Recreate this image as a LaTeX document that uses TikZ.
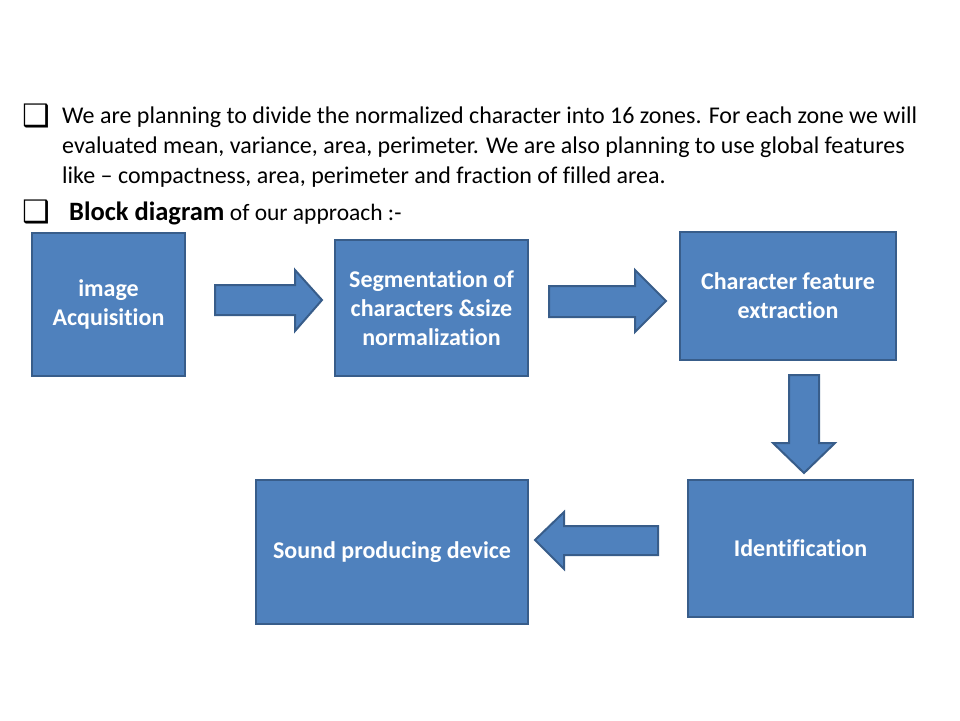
\documentclass[tikz,border=0pt]{standalone}
\usepackage{fontspec}
\setmainfont{Carlito}[Ligatures=NoCommon]
\newfontfamily\symfont{DejaVu Sans}
\usetikzlibrary{calc}
\definecolor{boxblue}{HTML}{4F81BD}
\definecolor{boxedge}{HTML}{385D8A}
\tikzset{
  block/.style={draw=boxedge, fill=boxblue, line width=2pt, text=white, align=center,
    font=\fontsize{24}{29}\selectfont\bfseries, inner sep=2pt},
  fatarrow/.style={draw=boxedge, fill=boxblue, line width=2pt, line join=miter},
  line/.style={anchor=base west, inner sep=0pt, font=\fontsize{24}{29.5}\selectfont},
  tick/.style={anchor=center, inner sep=0pt, font=\symfont\fontsize{31}{31}\selectfont}
}
\begin{document}
\begin{tikzpicture}[x=1pt, y=-1pt]
			%%%%% START %%%%%
			\useasboundingbox (0, 0) rectangle (960, 720);
			
			\node[tick] (t1) at (36.5, 116) {❑};
			\node[line] (l1) at (62, 123) {We are planning to divide the normalized character into 16 zones. For each zone we will};
			\node[line] (l2) at (62, 153) {evaluated mean, variance, area, perimeter. We are also planning to use global features};
			\node[line] (l3) at (62, 183) {like – compactness, area, perimeter and fraction of filled area.};
			
			\node[tick] (t2) at (36.5, 211.5) {❑};
			\node[line] (l4) at (69, 220) {{\fontsize{26.5}{29}\selectfont\bfseries Block diagram} {\fontsize{23.5}{29}\selectfont of our approach :-}};
			
			\node[block, minimum width=153, minimum height=143] (acq) at (108.5, 304.5) {image\\Acquisition};
			\node[block, minimum width=193, minimum height=136] (seg) at (431.5, 308) {Segmentation of\\characters \&size\\normalization};
			\node[block, minimum width=216, minimum height=128] (feat) at (788, 296) {Character feature\\extraction};
			\node[block, minimum width=225, minimum height=137] (ident) at (800.5, 548.5) {Identification};
			\node[block, minimum width=272, minimum height=144] (sound) at (392, 552) {Sound producing device};
			
			\draw[fatarrow] (215, 285) -- (295, 285) -- (295, 270) -- (322, 300) -- (295, 331) -- (295, 315) -- (215, 315) -- cycle;
			\draw[fatarrow] (549, 286) -- (635, 286) -- (635, 270) -- (666, 301) -- (635, 332) -- (635, 317) -- (549, 317) -- cycle;
			\draw[fatarrow] (789, 375) -- (819, 375) -- (819, 443) -- (835, 443) -- (804, 473) -- (773, 443) -- (789, 443) -- cycle;
			\draw[fatarrow] (658, 526) -- (564, 526) -- (564, 512) -- (535, 540) -- (564, 569) -- (564, 555) -- (658, 555) -- cycle;
			
			%%%%% END %%%%%
\end{tikzpicture}
\end{document}
